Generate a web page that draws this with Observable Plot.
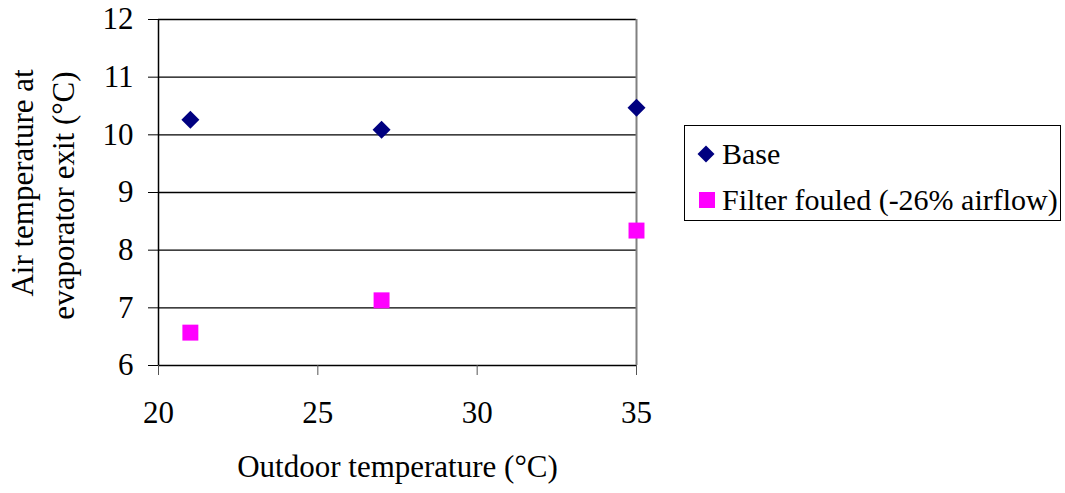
<!DOCTYPE html>
<html>
<head>
<meta charset="utf-8">
<script src="https://cdn.jsdelivr.net/npm/d3@7"></script>
<script src="https://cdn.jsdelivr.net/npm/@observablehq/plot@0.6"></script>
<style>
  html, body { margin: 0; padding: 0; background: #fff; }
  #wrap { position: relative; width: 1065px; height: 493px; font-family: "Liberation Serif", "Times New Roman", serif; }
  #legend { position: absolute; left: 684px; top: 125px; width: 377px; height: 96px; border: 1px solid #000; box-sizing: border-box; font-size: 30px; color: #000; }
  #legend .row { position: absolute; left: 0; display: flex; align-items: center; white-space: nowrap; }
  #legend svg { display: block; }
</style>
</head>
<body>
<div id="wrap"></div>
<script>
const outdoorTemp = [21, 27, 35];
const baseValues = [10.26, 10.09, 10.47];
const fouledValues = [6.57, 7.13, 8.34];
const seriesNames = ["Base", "Filter fouled (-26% airflow)"];
const seriesColors = ["#000080", "#FF00FF"];
const xTicks = [20, 25, 30, 35];
const yTicks = [6, 7, 8, 9, 10, 11, 12];
const xTitle = "Outdoor temperature (°C)";
const yTitleLines = ["Air temperature at", "evaporator exit (°C)"];

const baseData = outdoorTemp.map((x, i) => ({x, y: baseValues[i]}));
const fouledData = outdoorTemp.map((x, i) => ({x, y: fouledValues[i]}));

const chart = Plot.plot({
  width: 1065,
  height: 493,
  marginLeft: 158,
  marginRight: 429,
  marginTop: 19,
  marginBottom: 128,
  style: {fontFamily: "'Liberation Serif', 'Times New Roman', serif", fontSize: "31px", color: "#000", background: "#fff", overflow: "visible"},
  x: {domain: [20, 35], ticks: xTicks},
  y: {domain: [6, 12], ticks: yTicks},
  marks: [
    Plot.gridY(yTicks, {stroke: "#000", strokeOpacity: 1, strokeWidth: 1.3}),
    Plot.ruleX([35], {y1: 6, y2: 12, stroke: "#808080", strokeWidth: 2}),
    Plot.ruleX([20], {y1: 6, y2: 12, stroke: "#000", strokeWidth: 1.5}),
    Plot.axisX({ticks: xTicks, tickSize: 10, tickPadding: 25, stroke: "#555", label: null, tickFormat: d => String(d)}),
    Plot.axisY({ticks: yTicks, tickSize: 10, tickPadding: 15, stroke: "#000", label: null, tickFormat: d => String(d)}),
    Plot.dot(baseData, {x: "x", y: "y", symbol: "diamond2", r: 8.1, fill: seriesColors[0], stroke: null}),
    Plot.dot(fouledData, {x: "x", y: "y", symbol: "square", r: 9, fill: seriesColors[1], stroke: null}),
    Plot.text([xTitle], {frameAnchor: "bottom", text: d => d, dy: 111, lineAnchor: "bottom", fill: "#000"}),
    Plot.text([yTitleLines[0]], {frameAnchor: "left", text: d => d, rotate: -90, dx: -126, dy: -9.5, textAnchor: "middle", lineAnchor: "bottom", fill: "#000"}),
    Plot.text([yTitleLines[1]], {frameAnchor: "left", text: d => d, rotate: -90, dx: -85, dy: 3, textAnchor: "middle", lineAnchor: "bottom", fill: "#000"})
  ]
});

const wrap = document.getElementById("wrap");
wrap.appendChild(chart);

// Legend
const legend = document.createElement("div");
legend.id = "legend";
const rows = [
  {name: seriesNames[0], color: seriesColors[0], shape: "diamond", top: 11},
  {name: seriesNames[1], color: seriesColors[1], shape: "square", top: 57}
];
rows.forEach(r => {
  const row = document.createElement("div");
  row.className = "row";
  row.style.top = r.top + "px";
  const ns = "http://www.w3.org/2000/svg";
  const s = document.createElementNS(ns, "svg");
  s.setAttribute("width", 37);
  s.setAttribute("height", 34);
  const p = document.createElementNS(ns, "path");
  if (r.shape === "diamond") {
    p.setAttribute("d", "M21,8.5 L29.5,17 L21,25.5 L12.5,17 Z");
  } else {
    p.setAttribute("d", "M14,9 L30,9 L30,25 L14,25 Z");
  }
  p.setAttribute("fill", r.color);
  s.appendChild(p);
  row.appendChild(s);
  const t = document.createElement("span");
  t.textContent = r.name;
  row.appendChild(t);
  legend.appendChild(row);
});
wrap.appendChild(legend);
</script>
</body>
</html>
